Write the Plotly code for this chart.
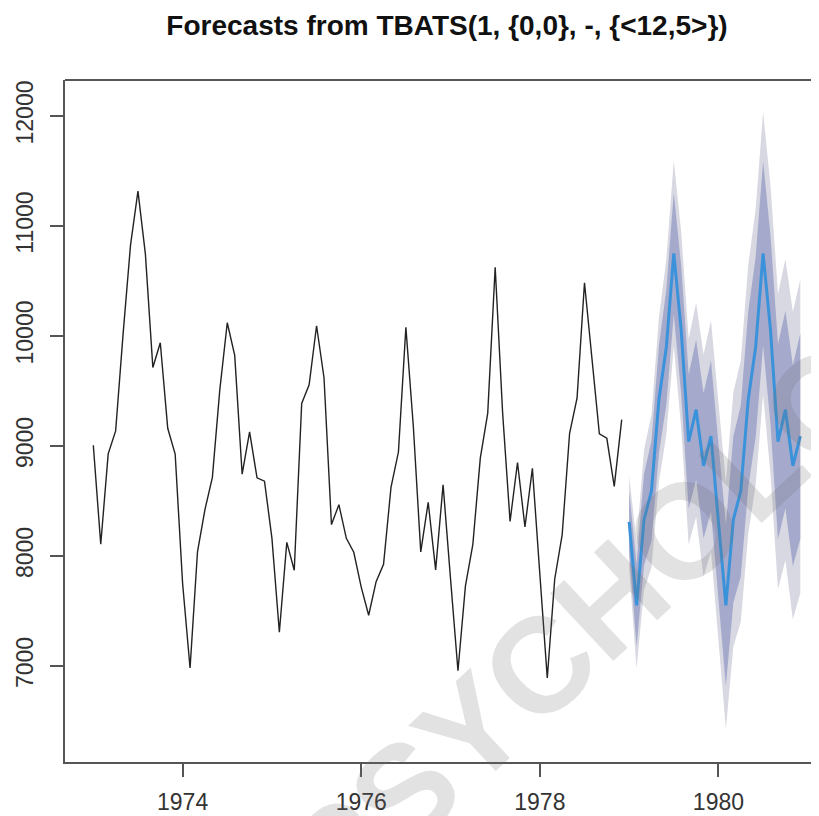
import plotly.graph_objects as go

# ---- data ----
hist_start = 1973
deaths = [9007, 8106, 8928, 9137, 10017, 10826, 11317, 10744, 9713, 9938, 9161, 8927,
          7750, 6981, 8038, 8422, 8714, 9512, 10120, 9823, 8743, 9129, 8710, 8680,
          8162, 7306, 8124, 7870, 9387, 9556, 10093, 9620, 8285, 8466, 8160, 8034,
          7717, 7461, 7767, 7925, 8623, 8945, 10078, 9179, 8037, 8488, 7874, 8647,
          7792, 6957, 7726, 8106, 8890, 9299, 10625, 9302, 8314, 8850, 8265, 8796,
          7836, 6892, 7791, 8192, 9115, 9434, 10484, 9827, 9110, 9070, 8633, 9240]

fc_start = 1979
fc_mean = [8310, 7550, 8330, 8590, 9420, 9900, 10750, 10050, 9040, 9330, 8820, 9090,
           8310, 7550, 8330, 8590, 9420, 9900, 10750, 10050, 9040, 9330, 8820, 9090]
hi80 = [8585, 7924, 8746, 9045, 9909, 10422, 11303, 10632, 9650, 9966, 9482, 9777,
        9020, 8283, 9085, 9367, 10219, 10719, 11589, 10908, 9928, 10226, 9734, 10023]
lo80 = [8035, 7176, 7914, 8135, 8931, 9378, 10197, 9468, 8430, 8694, 8158, 8403,
        7600, 6817, 7575, 7813, 8621, 9081, 9911, 9192, 8152, 8434, 7906, 8157]
hi95 = [8730, 8122, 8966, 9285, 10168, 10698, 11596, 10940, 9973, 10303, 9832, 10140,
        9396, 8671, 9485, 9778, 10641, 11152, 12033, 11362, 10382, 10700, 10218, 10516]
lo95 = [7890, 6978, 7694, 7895, 8672, 9102, 9904, 9160, 8107, 8357, 7808, 8040,
        7224, 6429, 7175, 7402, 8199, 8648, 9467, 8738, 7698, 7960, 7422, 7664]

x_ticks = [1974, 1976, 1978, 1980]
y_ticks = [7000, 8000, 9000, 10000, 11000, 12000]
title = "Forecasts from TBATS(1, {0,0}, -, {<12,5>})"
watermark = "PSYCHOLOGY"

t_hist = [hist_start + i / 12 for i in range(len(deaths))]
t_fc = [fc_start + i / 12 for i in range(len(fc_mean))]

fig = go.Figure()

# 95% band
fig.add_trace(go.Scatter(
    x=t_fc + t_fc[::-1], y=hi95 + lo95[::-1],
    fill="toself", fillcolor="#D7D8E1", line=dict(width=0),
    mode="lines", hoverinfo="skip", showlegend=False))
# 80% band
fig.add_trace(go.Scatter(
    x=t_fc + t_fc[::-1], y=hi80 + lo80[::-1],
    fill="toself", fillcolor="#A5A9CC", line=dict(width=0),
    mode="lines", hoverinfo="skip", showlegend=False))
# point forecast
fig.add_trace(go.Scatter(
    x=t_fc, y=fc_mean, mode="lines",
    line=dict(color="#3A93DA", width=3), showlegend=False))
# history
fig.add_trace(go.Scatter(
    x=t_hist, y=deaths, mode="lines",
    line=dict(color="#222222", width=1.4), showlegend=False))

axis_font = dict(family="Liberation Sans, Arial, sans-serif", size=23, color="#333333")

W, H = 811, 808
L, T, B = 57, 72, 54

fig.update_layout(
    width=W, height=H,
    margin=dict(l=L, r=0, t=T, b=B, autoexpand=False),
    paper_bgcolor="white", plot_bgcolor="white",
    title=dict(text="<b>" + title + "</b>", x=439 / W, xanchor="center",
               y=1 - 17 / H, yanchor="middle",
               font=dict(family="Liberation Sans, Arial, sans-serif", size=28, color="#111111")),
    xaxis=dict(range=[1972.683, 1981.126], tickvals=x_ticks,
               ticktext=[str(v) for v in x_ticks], automargin=False,
               showgrid=False, zeroline=False,
               showline=True, linecolor="#555555", linewidth=2,
               ticks="outside", ticklen=13, tickwidth=1.5, tickcolor="#555555",
               tickfont=axis_font, ticklabelstandoff=5),
    yaxis=dict(range=[6127, 12327], tickvals=y_ticks,
               ticktext=[str(v) for v in y_ticks], automargin=False,
               showgrid=False, zeroline=False,
               showline=True, linecolor="#555555", linewidth=2,
               ticks="outside", ticklen=13, tickwidth=1.5, tickcolor="#555555",
               tickfont=axis_font, tickangle=-90, ticklabelstandoff=8),
    shapes=[dict(type="line", xref="paper", yref="paper", x0=0, x1=1, y0=1, y1=1,
                 line=dict(color="#555555", width=2))],
    annotations=[dict(text="<b>" + watermark + "</b>", xref="paper", yref="paper",
                      x=(646 - L) / (W - L), y=(H - B - 551) / (H - B - T),
                      xanchor="center", yanchor="middle", showarrow=False,
                      textangle=-43,
                      font=dict(family="Liberation Sans, Arial, sans-serif", size=135,
                                color="rgba(110,110,110,0.2)"))],
)

fig.write_html("out.html")
